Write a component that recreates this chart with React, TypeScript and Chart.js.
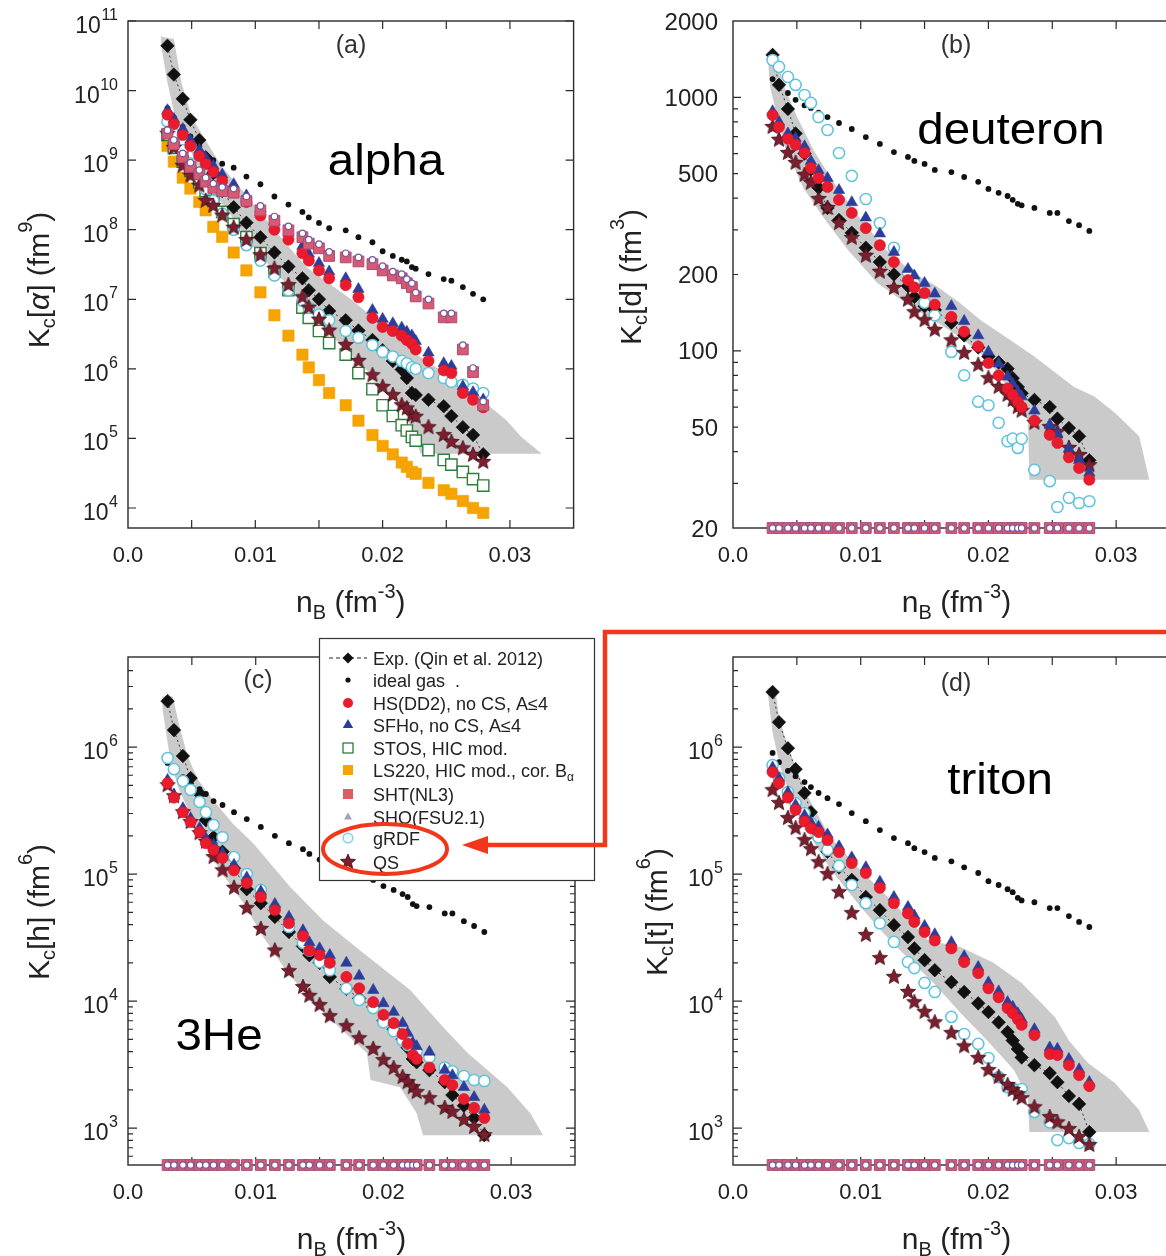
import React, { useEffect, useRef } from 'react';
import { Chart, registerables } from 'chart.js';

Chart.register(...registerables);

const FONT = '"Liberation Sans", Arial, Helvetica, sans-serif';

// ---------------- shared densities n_B (fm^-3) ----------------
const nB = [0.0031, 0.0036, 0.0043, 0.0049, 0.0056, 0.0061, 0.0067, 0.0074, 0.0083, 0.0093, 0.0104, 0.0115, 0.0126, 0.0137, 0.0142, 0.0150, 0.0158, 0.0171, 0.0181, 0.0192, 0.0200, 0.0208, 0.0215, 0.0219, 0.0223, 0.0226, 0.0236, 0.0248, 0.0254, 0.0263, 0.0271, 0.0279];

// ---------------- tick labels ----------------
const xTickValues = [0.005, 0.01, 0.015, 0.02, 0.025, 0.03];
const xLabelValues = [0, 0.01, 0.02, 0.03];
const xLabels = ['0.0', '0.01', '0.02', '0.03'];
const yExpA = [4, 5, 6, 7, 8, 9, 10, 11];
const yExpCD = [3, 4, 5, 6];
const yLabelValuesB = [20, 50, 100, 200, 500, 1000, 2000];
const yLabelsB = ['20', '50', '100', '200', '500', '1000', '2000'];

// ---------------- (a) alpha ----------------
const expA = [4.4e10, 1.7e10, 7.6e9, 3.8e9, 1.95e9, 1.1e9, 6.5e8, 3.6e8, 2.1e8, 1.26e8, 7.8e7, 4.7e7, 2.95e7, 2.0e7, 1.35e7, 1.0e7, 6.8e6, 5.0e6, 3.55e6, 2.6e6, 1.85e6, 1.3e6, 9.8e5, 7.4e5, 4.5e5, 4.2e5, 3.6e5, 2.9e5, 2.1e5, 1.45e5, 1.12e5, 5.9e4];
const idealA = [5.6e9, 4.1e9, 3.0e9, 2.2e9, 1.6e9, 1.2e9, 1.0e9, 8.9e8, 7.8e8, 5.8e8, 4.5e8, 3.0e8, 2.3e8, 1.8e8, 1.5e8, 1.25e8, 1.05e8, 9.8e7, 7.8e7, 6.6e7, 4.9e7, 4.2e7, 3.7e7, 3.5e7, 2.9e7, 2.75e7, 2.3e7, 1.95e7, 1.85e7, 1.5e7, 1.2e7, 1.0e7];
const hsA = [4.5e9, 3.3e9, 2.3e9, 1.6e9, 1.15e9, 8.8e8, 6.8e8, 5.0e8, 3.6e8, 2.5e8, 1.6e8, 1.0e8, 7.2e7, 4.6e7, 3.6e7, 2.6e7, 2.0e7, 1.6e7, 1.07e7, 5.4e6, 4.0e6, 3.5e6, 3.0e6, 2.6e6, 2.3e6, 1.9e6, 1.3e6, 9.5e5, 8.7e5, 4.5e5, 3.6e5, 2.8e5];
const sfhoA = [5.2e9, 3.9e9, 2.8e9, 1.95e9, 1.4e9, 1.08e9, 8.3e8, 6.2e8, 4.5e8, 3.1e8, 2.0e8, 1.3e8, 9.0e7, 5.8e7, 4.5e7, 3.3e7, 2.5e7, 2.0e7, 1.4e7, 7.0e6, 5.2e6, 4.5e6, 3.9e6, 3.4e6, 3.0e6, 2.5e6, 1.7e6, 1.2e6, 1.1e6, 5.6e5, 4.6e5, 3.6e5];
const stosA = [2.3e9, 1.5e9, 9.5e8, 7.0e8, 4.8e8, 3.6e8, 2.6e8, 1.8e8, 1.2e8, 7.8e7, 4.6e7, 2.5e7, 1.35e7, 7.6e6, 5.4e6, 3.5e6, 2.35e6, 1.6e6, 8.7e5, 5.1e5, 3.0e5, 2.1e5, 1.55e5, 1.3e5, 1.05e5, 9.3e4, 6.8e4, 4.9e4, 4.2e4, 3.3e4, 2.6e4, 2.1e4];
const ls220A = [1.6e9, 9.5e8, 5.6e8, 3.9e8, 2.5e8, 1.9e8, 1.1e8, 7.9e7, 4.7e7, 2.6e7, 1.26e7, 5.9e6, 3.0e6, 1.6e6, 1.05e6, 6.9e5, 4.5e5, 3.0e5, 1.8e5, 1.12e5, 7.8e4, 5.9e4, 4.5e4, 3.9e4, 3.3e4, 3.1e4, 2.3e4, 1.8e4, 1.6e4, 1.26e4, 1.0e4, 8.5e3];
const shtA = [2.4e9, 1.7e9, 1.1e9, 8.0e8, 6.3e8, 4.9e8, 4.0e8, 3.6e8, 3.4e8, 2.6e8, 1.9e8, 1.35e8, 9.8e7, 7.8e7, 6.3e7, 5.4e7, 4.2e7, 4.0e7, 3.5e7, 3.2e7, 2.6e7, 2.2e7, 2.0e7, 1.7e7, 1.5e7, 1.1e7, 8.7e6, 5.5e6, 5.5e6, 1.9e6, 9.0e5, 3.0e5];
const shoA = [2.7e9, 1.95e9, 1.25e9, 9.2e8, 7.2e8, 5.6e8, 4.6e8, 4.1e8, 3.9e8, 3.0e8, 2.2e8, 1.55e8, 1.12e8, 8.9e7, 7.2e7, 6.2e7, 4.8e7, 4.6e7, 4.0e7, 3.7e7, 3.0e7, 2.5e7, 2.3e7, 1.95e7, 1.7e7, 1.25e7, 1.0e7, 6.3e6, 6.3e6, 2.2e6, 1.03e6, 3.4e5];
const grdfA = [3.6e9, 2.4e9, 1.4e9, 9.0e8, 5.5e8, 3.8e8, 2.6e8, 1.7e8, 1.0e8, 6.0e7, 3.6e7, 2.2e7, 1.35e7, 9.5e6, 7.5e6, 6.0e6, 5.0e6, 3.5e6, 2.8e6, 2.2e6, 1.75e6, 1.5e6, 1.3e6, 1.2e6, 1.05e6, 1.0e6, 8.7e5, 7.4e5, 6.5e5, 5.9e5, 5.2e5, 4.5e5];
const qsA = [2.4e9, 1.5e9, 8.3e8, 6.0e8, 4.3e8, 2.6e8, 2.2e8, 1.6e8, 1.07e8, 7.1e7, 4.3e7, 2.75e7, 1.6e7, 1.07e7, 7.6e6, 5.1e6, 3.55e6, 2.2e6, 1.3e6, 8.1e5, 5.5e5, 4.2e5, 3.0e5, 2.7e5, 2.15e5, 2.05e5, 1.45e5, 1.12e5, 8.9e4, 7.2e4, 5.8e4, 4.6e4];
const bandAX = [0.0026, 0.0036, 0.0042, 0.0050, 0.0062, 0.0074, 0.0096, 0.0117, 0.0140, 0.0176, 0.0229, 0.0254, 0.0281, 0.0297, 0.0309, 0.0325, 0.0230, 0.0218, 0.0203, 0.0182, 0.0150, 0.0130, 0.0112, 0.0094, 0.0080, 0.0066, 0.0055, 0.0046, 0.0037, 0.0031, 0.0026];
const bandAY = [6.0e10, 5.5e10, 1.3e10, 4.2e9, 1.8e9, 8.0e8, 2.7e8, 9.0e7, 2.9e7, 9.8e6, 1.5e6, 7.6e5, 3.2e5, 1.84e5, 1.05e5, 6.0e4, 6.0e4, 2.3e5, 5.0e5, 1.2e6, 4.5e6, 1.3e7, 2.9e7, 7.0e7, 1.7e8, 3.7e8, 8.0e8, 1.8e9, 4.2e9, 1.3e10, 4.5e10];

// ---------------- (b) deuteron ----------------
const expB = [1470, 1120, 900, 720, 600, 520, 440, 366, 328, 292, 255, 224, 200, 180, 163, 150, 145, 129, 115, 103, 95, 90, 85, 78, 72, 68, 64, 60, 54, 49.6, 46, 37];
const idealB = [1180, 1100, 1040, 977, 930, 908, 870, 836, 792, 750, 697, 655, 608, 582, 561, 546, 517, 507, 485, 464, 435, 420, 408, 394, 380, 375, 366, 350, 350, 325, 313, 297];
const hsB = [851, 764, 686, 650, 603, 526, 480, 443, 394, 350, 305, 261, 224, 190, 178, 169, 152, 136, 119, 104, 89.5, 80, 71, 67, 63, 60, 53, 46.6, 43.3, 38, 34.5, 31];
const sfhoB = [880, 800, 720, 690, 640, 560, 515, 480, 430, 385, 335, 290, 245, 210, 198, 185, 168, 150, 131, 115, 99, 89, 79, 74, 69, 66, 58, 51, 47, 41, 37, 33];
const grdfB = [1403, 1318, 1203, 1119, 1021, 950, 836, 743, 603, 490, 397, 319, 255, 203, 185, 155, 138, 99, 80, 63, 61, 52, 44, 45, 41.4, 45, 33.9, 30.6, 24.2, 26.3, 25.1, 25.5];
const qsB = [764, 680, 603, 551, 494, 460, 397, 366, 319, 279, 237, 205, 177, 159, 142, 132, 121, 110, 98, 88, 78, 72, 67, 64, 60, 58, 52, 50, 47.8, 41.4, 38.8, 35.4];
const floorB = [20, 20, 20, 20, 20, 20, 20, 20, 20, 20, 20, 20, 20, 20, 20, 20, 20, 20, 20, 20, 20, 20, 20, 20, 20, 20, 20, 20, 20, 20, 20, 20];
const bandBX = [0.0027, 0.0034, 0.0039, 0.0050, 0.0063, 0.0078, 0.0098, 0.0120, 0.0140, 0.0160, 0.0178, 0.0194, 0.0215, 0.0236, 0.0267, 0.0283, 0.0299, 0.0318, 0.0326, 0.0232, 0.0231, 0.0215, 0.0200, 0.0178, 0.0157, 0.0137, 0.0113, 0.0090, 0.0070, 0.0055, 0.0040, 0.0029];
const bandBY = [1500, 1500, 1140, 840, 620, 470, 340, 250, 205, 179, 154, 132, 112, 95, 72, 66, 57, 46, 31, 31, 53, 72, 92, 113, 132, 152, 185, 250, 340, 440, 650, 1100];

// ---------------- (c) 3He ----------------
const expC = [2.3e6, 1.36e6, 8.5e5, 5.7e5, 4.3e5, 2.66e5, 1.95e5, 1.5e5, 1.11e5, 7.6e4, 5.9e4, 4.6e4, 3.5e4, 2.7e4, 2.3e4, 2.0e4, 1.55e4, 1.25e4, 1.05e4, 9.0e3, 7.0e3, 6.0e3, 5.0e3, 4.3e3, 3.5e3, 3.3e3, 2.86e3, 2.3e3, 1.82e3, 1.5e3, 1.2e3, 880];
const idealC = [7.5e5, 6.5e5, 5.8e5, 5.1e5, 4.67e5, 4.27e5, 3.76e5, 3.5e5, 3.07e5, 2.71e5, 2.35e5, 2.0e5, 1.75e5, 1.57e5, 1.44e5, 1.3e5, 1.2e5, 1.1e5, 1.0e5, 9.0e4, 8.05e4, 7.5e4, 6.96e4, 6.6e4, 5.8e4, 5.6e4, 5.5e4, 4.9e4, 4.9e4, 4.26e4, 3.9e4, 3.5e4];
const hsC = [5.2e5, 4.0e5, 3.07e5, 2.57e5, 2.14e5, 1.75e5, 1.55e5, 1.34e5, 1.07e5, 8.5e4, 6.6e4, 5.2e4, 4.1e4, 3.25e4, 2.5e4, 2.3e4, 2.0e4, 1.55e4, 1.26e4, 9.8e3, 7.8e3, 6.7e3, 5.5e3, 4.6e3, 3.76e3, 3.5e3, 3.0e3, 2.39e3, 2.18e3, 1.69e3, 1.44e3, 1.2e3];
const sfhoC = [5.5e5, 4.2e5, 3.3e5, 2.75e5, 2.3e5, 1.9e5, 1.7e5, 1.46e5, 1.18e5, 9.4e4, 7.3e4, 5.8e4, 4.6e4, 3.6e4, 2.9e4, 2.6e4, 2.3e4, 2.0e4, 1.58e4, 1.22e4, 9.6e3, 8.2e3, 6.7e3, 5.6e3, 4.7e3, 4.4e3, 3.98e3, 2.87e3, 2.6e3, 2.1e3, 1.75e3, 1.39e3];
const grdfC = [8.2e5, 6.7e5, 5.4e5, 4.6e5, 3.7e5, 3.07e5, 2.43e5, 1.95e5, 1.36e5, 1.0e5, 7.5e4, 5.4e4, 3.83e4, 2.87e4, 2.5e4, 2.03e4, 1.75e4, 1.26e4, 1.02e4, 8.8e3, 6.8e3, 5.8e3, 4.9e3, 4.5e3, 4.3e3, 4.0e3, 3.6e3, 3.0e3, 2.8e3, 2.57e3, 2.39e3, 2.35e3];
const qsC = [5.0e5, 4.1e5, 3.07e5, 2.57e5, 2.1e5, 1.8e5, 1.36e5, 1.07e5, 7.8e4, 5.4e4, 3.7e4, 2.5e4, 1.72e4, 1.29e4, 1.1e4, 9.3e3, 7.6e3, 6.35e3, 5.1e3, 4.2e3, 3.43e3, 2.97e3, 2.52e3, 2.3e3, 2.1e3, 1.92e3, 1.72e3, 1.44e3, 1.34e3, 1.16e3, 1.02e3, 880];
const floorCD = [512, 512, 512, 512, 512, 512, 512, 512, 512, 512, 512, 512, 512, 512, 512, 512, 512, 512, 512, 512, 512, 512, 512, 512, 512, 512, 512, 512, 512, 512, 512, 512];
const bandCX = [0.0027, 0.0035, 0.0041, 0.0047, 0.0055, 0.0067, 0.0082, 0.0098, 0.0127, 0.0153, 0.0184, 0.0221, 0.0247, 0.0266, 0.0297, 0.0315, 0.0325, 0.0231, 0.0226, 0.0213, 0.0190, 0.0187, 0.0153, 0.0125, 0.0106, 0.0090, 0.0074, 0.0060, 0.0050, 0.0040, 0.0033, 0.0027];
const bandCY = [2.5e6, 2.5e6, 1.36e6, 8.3e5, 5.5e5, 3.8e5, 2.5e5, 1.75e5, 7.9e4, 4.3e4, 2.4e4, 1.22e4, 6.2e3, 3.9e3, 2.1e3, 1.31e3, 880, 880, 1.31e3, 2.1e3, 2.39e3, 3.9e3, 8.1e3, 1.66e4, 3.2e4, 6.0e4, 1.0e5, 1.7e5, 2.8e5, 4.6e5, 8.0e5, 2.0e6];

// ---------------- (d) triton ----------------
const expD = [2.71e6, 1.57e6, 9.8e5, 6.7e5, 4.35e5, 3.07e5, 2.1e5, 1.5e5, 1.13e5, 9.0e4, 6.6e4, 5.2e4, 3.96e4, 3.19e4, 2.6e4, 2.1e4, 1.75e4, 1.41e4, 1.18e4, 9.6e3, 8.2e3, 6.8e3, 5.7e3, 4.9e3, 4.2e3, 3.6e3, 3.13e3, 2.71e3, 2.3e3, 1.79e3, 1.55e3, 930];
const idealD = [9.0e5, 7.6e5, 6.5e5, 5.9e5, 5.3e5, 4.84e5, 4.35e5, 3.96e5, 3.56e5, 3.02e5, 2.61e5, 2.22e5, 1.92e5, 1.75e5, 1.6e5, 1.49e5, 1.34e5, 1.26e5, 1.13e5, 1.02e5, 8.8e4, 8.2e4, 7.6e4, 7.2e4, 6.5e4, 6.2e4, 6.0e4, 5.4e4, 5.4e4, 4.67e4, 4.2e4, 3.83e4];
const hsD = [6.35e5, 5.2e5, 4.0e5, 3.2e5, 2.6e5, 2.3e5, 2.14e5, 1.85e5, 1.49e5, 1.22e5, 1.02e5, 7.8e4, 5.9e4, 4.9e4, 4.2e4, 3.5e4, 3.0e4, 2.6e4, 2.03e4, 1.66e4, 1.26e4, 1.07e4, 8.8e3, 8.05e3, 7.2e3, 6.5e3, 5.4e3, 3.83e3, 3.76e3, 3.13e3, 2.61e3, 2.14e3];
const sfhoD = [6.9e5, 5.7e5, 4.4e5, 3.5e5, 2.9e5, 2.55e5, 2.35e5, 2.05e5, 1.65e5, 1.35e5, 1.13e5, 8.7e4, 6.6e4, 5.5e4, 4.7e4, 3.9e4, 3.35e4, 2.9e4, 2.25e4, 1.85e4, 1.4e4, 1.19e4, 9.8e3, 9.0e3, 8.0e3, 7.2e3, 6.0e3, 4.3e3, 4.2e3, 3.5e3, 2.9e3, 2.3e3];
const grdfD = [7.2e5, 5.7e5, 4.43e5, 3.62e5, 3.02e5, 2.52e5, 1.95e5, 1.55e5, 1.16e5, 8.2e4, 5.9e4, 4.1e4, 2.92e4, 2.03e4, 1.82e4, 1.39e4, 1.18e4, 7.5e3, 5.5e3, 4.6e3, 3.56e3, 2.52e3, 2.1e3, 2.05e3, 2.0e3, 2.03e3, 1.34e3, 1.11e3, 805, 834, 763, 750];
const qsD = [4.58e5, 3.62e5, 2.76e5, 2.3e5, 1.85e5, 1.57e5, 1.24e5, 1.0e5, 7.2e4, 4.93e4, 3.31e4, 2.18e4, 1.55e4, 1.18e4, 9.8e3, 8.2e3, 6.8e3, 5.6e3, 4.4e3, 3.56e3, 2.86e3, 2.52e3, 2.18e3, 2.0e3, 1.85e3, 1.72e3, 1.46e3, 1.22e3, 1.11e3, 982, 850, 735];
const bandDX = [0.0027, 0.0033, 0.0036, 0.0043, 0.0050, 0.0059, 0.0076, 0.0100, 0.0126, 0.0153, 0.0178, 0.0204, 0.0226, 0.0252, 0.0263, 0.0278, 0.0299, 0.0318, 0.0326, 0.0232, 0.0231, 0.0220, 0.0199, 0.0178, 0.0157, 0.0131, 0.0118, 0.0100, 0.0076, 0.0058, 0.0046, 0.0037, 0.0031, 0.0027];
const bandDY = [2.9e6, 2.9e6, 1.72e6, 1.0e6, 6.6e5, 4.0e5, 1.95e5, 1.07e5, 5.9e4, 3.0e4, 2.66e4, 2.0e4, 1.39e4, 7.5e3, 4.9e3, 3.25e3, 2.26e3, 1.39e3, 930, 930, 1.75e3, 2.86e3, 4.9e3, 8.1e3, 1.39e4, 2.5e4, 3.4e4, 5.5e4, 1.1e5, 2.2e5, 3.8e5, 7.0e5, 1.29e6, 2.8e6];

// ---------------- legend ----------------
type Seg = { t: string; s: number; dy?: number; it?: boolean };
type Kind = 'exp' | 'ideal' | 'hs' | 'sfho' | 'stos' | 'ls220' | 'sht' | 'sho' | 'grdf' | 'qs';
const legendKinds: Kind[] = ['exp', 'ideal', 'hs', 'sfho', 'stos', 'ls220', 'sht', 'sho', 'grdf', 'qs'];
const legendTexts: Seg[][] = [
  [{ t: 'Exp. (Qin et al. 2012)', s: 18 }],
  [{ t: 'ideal gas  .', s: 18 }],
  [{ t: 'HS(DD2), no CS, A\u22644', s: 18 }],
  [{ t: 'SFHo, no CS, A\u22644', s: 18 }],
  [{ t: 'STOS, HIC mod.', s: 18 }],
  [{ t: 'LS220, HIC mod., cor. B', s: 18 }, { t: '\u03b1', s: 12, dy: 4 }],
  [{ t: 'SHT(NL3)', s: 18 }],
  [{ t: 'SHO(FSU2.1)', s: 18 }],
  [{ t: 'gRDF', s: 18 }],
  [{ t: 'QS', s: 18 }],
];

// ---------------- styles ----------------
const STYLES: Record<Kind, { style: string; r: number; fill: string; stroke: string; bw: number; order: number }> = {
  sho: { style: 'circle', r: 3.2, fill: '#ffffff', stroke: '#74579a', bw: 1.2, order: 1 },
  sht: { style: 'rect', r: 7.6, fill: '#d95a70', stroke: '#a84c7c', bw: 1, order: 2 },
  hs: { style: 'circle', r: 5.6, fill: '#ea1b2d', stroke: '#d01525', bw: 0.6, order: 3 },
  sfho: { style: 'triangle', r: 6.6, fill: '#2c3e9c', stroke: '#2c3e9c', bw: 0.6, order: 4 },
  qs: { style: 'star', r: 8, fill: '#7b1f2e', stroke: '#3d0d16', bw: 0.8, order: 5 },
  grdf: { style: 'circle', r: 5.6, fill: '#ffffff', stroke: '#5ec3dc', bw: 1.5, order: 6 },
  exp: { style: 'rectRot', r: 6.8, fill: '#111111', stroke: '#111111', bw: 0.6, order: 7 },
  stos: { style: 'rect', r: 8, fill: '#ffffff', stroke: '#2e7d3a', bw: 1.4, order: 8 },
  ls220: { style: 'rect', r: 8, fill: '#f6a400', stroke: '#eea000', bw: 0.6, order: 9 },
  ideal: { style: 'circle', r: 2.9, fill: '#111111', stroke: '#111111', bw: 0, order: 10 },
};

const X_TITLE: Seg[] = [{ t: 'n', s: 30 }, { t: 'B', s: 20, dy: 7 }, { t: ' (fm', s: 30 }, { t: '-3', s: 20, dy: -14 }, { t: ')', s: 30 }];

interface Panel {
  key: 'a' | 'b' | 'c' | 'd';
  left: number; top: number; w: number; h: number; z: number;
  pad: { left: number; top: number; right: number; bottom: number };
  yMin: number; yMax: number;
  series: [Kind, number[]][];
  bandX: number[]; bandY: number[];
  yTitle: Seg[]; yTitlePos: [number, number];
  tag: string; tagPos: [number, number];
  big: string; bigPos: [number, number];
  legend: boolean;
}

const PANELS: Panel[] = [
  {
    key: 'a', left: 0, top: 0, w: 583, h: 628, z: 1,
    pad: { left: 128, top: 21, right: 8, bottom: 100 }, yMin: 5158, yMax: 1e11,
    series: [['exp', expA], ['ideal', idealA], ['hs', hsA], ['sfho', sfhoA], ['stos', stosA], ['ls220', ls220A], ['sht', shtA], ['sho', shoA], ['grdf', grdfA], ['qs', qsA]],
    bandX: bandAX, bandY: bandAY,
    yTitle: [{ t: 'K', s: 30 }, { t: 'c', s: 20, dy: 6 }, { t: '[', s: 30 }, { t: '\u03b1', s: 30, it: true }, { t: '] (fm', s: 30 }, { t: '9', s: 20, dy: -17 }, { t: ')', s: 30 }],
    yTitlePos: [38, 280], tag: '(a)', tagPos: [351, 46], big: 'alpha', bigPos: [386, 175], legend: false,
  },
  {
    key: 'b', left: 583, top: 0, w: 617, h: 628, z: 1,
    pad: { left: 150, top: 21, right: 20, bottom: 100 }, yMin: 20, yMax: 2000,
    series: [['exp', expB], ['ideal', idealB], ['hs', hsB], ['sfho', sfhoB], ['sht', floorB], ['sho', floorB], ['grdf', grdfB], ['qs', qsB]],
    bandX: bandBX, bandY: bandBY,
    yTitle: [{ t: 'K', s: 30 }, { t: 'c', s: 20, dy: 6 }, { t: '[d] (fm', s: 30 }, { t: '3', s: 20, dy: -17 }, { t: ')', s: 30 }],
    yTitlePos: [47, 277], tag: '(b)', tagPos: [373, 46], big: 'deuteron', bigPos: [428, 144], legend: false,
  },
  {
    key: 'c', left: 0, top: 628, w: 615, h: 628, z: 3,
    pad: { left: 128, top: 29, right: 40, bottom: 91 }, yMin: 512, yMax: 5.12e6,
    series: [['exp', expC], ['ideal', idealC], ['hs', hsC], ['sfho', sfhoC], ['sht', floorCD], ['sho', floorCD], ['grdf', grdfC], ['qs', qsC]],
    bandX: bandCX, bandY: bandCY,
    yTitle: [{ t: 'K', s: 30 }, { t: 'c', s: 20, dy: 6 }, { t: '[h] (fm', s: 30 }, { t: '6', s: 20, dy: -17 }, { t: ')', s: 30 }],
    yTitlePos: [38, 284], tag: '(c)', tagPos: [258, 53], big: '3He', bigPos: [219, 422], legend: true,
  },
  {
    key: 'd', left: 583, top: 628, w: 617, h: 628, z: 2,
    pad: { left: 150, top: 29, right: 20, bottom: 91 }, yMin: 512, yMax: 5.12e6,
    series: [['exp', expD], ['ideal', idealD], ['hs', hsD], ['sfho', sfhoD], ['sht', floorCD], ['sho', floorCD], ['grdf', grdfD], ['qs', qsD]],
    bandX: bandDX, bandY: bandDY,
    yTitle: [{ t: 'K', s: 30 }, { t: 'c', s: 20, dy: 6 }, { t: '[t] (fm', s: 30 }, { t: '6', s: 20, dy: -17 }, { t: ')', s: 30 }],
    yTitlePos: [73, 284], tag: '(d)', tagPos: [373, 56], big: 'triton', bigPos: [417, 166], legend: false,
  },
];

// ---------------- helpers ----------------
function makeStar(r: number): HTMLCanvasElement {
  const s = Math.ceil(r * 2 + 4);
  const c = document.createElement('canvas');
  c.width = s; c.height = s;
  const g = c.getContext('2d') as CanvasRenderingContext2D;
  g.beginPath();
  for (let k = 0; k < 10; k++) {
    const ang = -Math.PI / 2 + (k * Math.PI) / 5;
    const rr = k % 2 === 0 ? r : r * 0.45;
    const px = s / 2 + rr * Math.cos(ang);
    const py = s / 2 + rr * Math.sin(ang);
    if (k === 0) g.moveTo(px, py); else g.lineTo(px, py);
  }
  g.closePath();
  g.fillStyle = STYLES.qs.fill; g.fill();
  g.strokeStyle = STYLES.qs.stroke; g.lineWidth = STYLES.qs.bw; g.stroke();
  return c;
}

function fontOf(g: Seg) {
  return `${g.it ? 'italic ' : ''}${g.s}px ${FONT}`;
}

function drawRich(ctx: CanvasRenderingContext2D, segs: Seg[], x: number, y: number, align: 'left' | 'center' | 'right') {
  const ws = segs.map((g) => { ctx.font = fontOf(g); return ctx.measureText(g.t).width; });
  const total = ws.reduce((a, b) => a + b, 0);
  let cx = align === 'center' ? x - total / 2 : align === 'right' ? x - total : x;
  ctx.textAlign = 'left';
  ctx.textBaseline = 'alphabetic';
  segs.forEach((g, i) => { ctx.font = fontOf(g); ctx.fillText(g.t, cx, y + (g.dy || 0)); cx += ws[i]; });
}

function drawPow(ctx: CanvasRenderingContext2D, e: number, xRight: number, y: number) {
  ctx.textAlign = 'left';
  ctx.textBaseline = 'alphabetic';
  ctx.font = `16px ${FONT}`;
  const ew = ctx.measureText(String(e)).width;
  ctx.fillText(String(e), xRight - ew, y - 1);
  ctx.font = `23px ${FONT}`;
  const bw = ctx.measureText('10').width;
  ctx.fillText('10', xRight - ew - bw - 0.5, y + 12);
}

function yTicksFor(key: string): { v: number; len: number }[] {
  const out: { v: number; len: number }[] = [];
  if (key === 'a') {
    yExpA.forEach((e) => out.push({ v: Math.pow(10, e), len: 8 }));
  } else if (key === 'b') {
    [30, 40, 50, 60, 70, 80, 90, 100, 200, 300, 400, 500, 600, 700, 800, 900, 1000].forEach((v) => out.push({ v, len: v === 100 || v === 1000 ? 8 : 5 }));
  } else {
    for (let e = 2; e <= 6; e++) for (let m = 1; m <= 9; m++) {
      const v = m * Math.pow(10, e);
      if (v > 520 && v < 5.0e6) out.push({ v, len: m === 1 ? 9 : 5 });
    }
  }
  return out;
}

function drawLegendMarker(ctx: CanvasRenderingContext2D, kind: Kind, x: number, y: number, star: HTMLCanvasElement) {
  const s = STYLES[kind];
  ctx.save();
  ctx.fillStyle = s.fill; ctx.strokeStyle = s.stroke; ctx.lineWidth = s.bw || 1;
  if (kind === 'exp') {
    ctx.strokeStyle = '#222'; ctx.lineWidth = 1; ctx.setLineDash([4, 3]);
    ctx.beginPath(); ctx.moveTo(329, y); ctx.lineTo(367, y); ctx.stroke(); ctx.setLineDash([]);
    ctx.fillStyle = '#111';
    ctx.beginPath(); ctx.moveTo(x, y - 5.5); ctx.lineTo(x + 5.5, y); ctx.lineTo(x, y + 5.5); ctx.lineTo(x - 5.5, y); ctx.closePath(); ctx.fill();
  } else if (kind === 'ideal') {
    ctx.beginPath(); ctx.arc(x, y, 2.6, 0, Math.PI * 2); ctx.fill();
  } else if (kind === 'hs') {
    ctx.beginPath(); ctx.arc(x, y, 5, 0, Math.PI * 2); ctx.fill();
  } else if (kind === 'sfho') {
    ctx.beginPath(); ctx.moveTo(x, y - 6); ctx.lineTo(x + 5.2, y + 3); ctx.lineTo(x - 5.2, y + 3); ctx.closePath(); ctx.fill();
  } else if (kind === 'stos') {
    ctx.fillStyle = '#fff'; ctx.fillRect(x - 5, y - 5, 10, 10); ctx.lineWidth = 1.3; ctx.strokeRect(x - 5, y - 5, 10, 10);
  } else if (kind === 'ls220') {
    ctx.fillRect(x - 5, y - 5, 10, 10);
  } else if (kind === 'sht') {
    ctx.fillStyle = '#e05a62'; ctx.fillRect(x - 5, y - 5, 10, 10);
  } else if (kind === 'sho') {
    ctx.fillStyle = '#a8a0b4';
    ctx.beginPath(); ctx.moveTo(x, y - 4.5); ctx.lineTo(x + 4, y + 2.5); ctx.lineTo(x - 4, y + 2.5); ctx.closePath(); ctx.fill();
  } else if (kind === 'grdf') {
    ctx.fillStyle = '#f2fbfd'; ctx.strokeStyle = '#86d3e3'; ctx.lineWidth = 1.5;
    ctx.beginPath(); ctx.arc(x, y, 4.8, 0, Math.PI * 2); ctx.fill(); ctx.stroke();
  } else if (kind === 'qs') {
    ctx.drawImage(star, x - star.width / 2, y - star.height / 2);
  }
  ctx.restore();
}

function drawLegend(ctx: CanvasRenderingContext2D, offsetY: number, star: HTMLCanvasElement) {
  const L = 319, T = 638 - offsetY, R = 594, B = 880 - offsetY;
  const rows = [658, 680, 703, 725, 748, 770, 794, 817, 838, 862];
  ctx.save();
  ctx.fillStyle = '#ffffff';
  ctx.fillRect(L, T, R - L, B - T);
  ctx.strokeStyle = '#333'; ctx.lineWidth = 1.2;
  ctx.strokeRect(L + 0.5, T + 0.5, R - L, B - T);
  legendKinds.forEach((k, i) => {
    const y = rows[i] - offsetY;
    drawLegendMarker(ctx, k, 348, y, star);
    ctx.fillStyle = '#222';
    drawRich(ctx, legendTexts[i], 373, y + 6.5, 'left');
  });
  ctx.restore();
}

function decorPlugin(p: Panel, star: HTMLCanvasElement) {
  return {
    id: 'decor_' + p.key,
    beforeDatasetsDraw(chart: any) {
      const { ctx, chartArea: a } = chart;
      const xs = chart.scales.x, ys = chart.scales.y;
      ctx.save();
      ctx.strokeStyle = '#2a2a2a';
      ctx.lineWidth = 1.2;
      ctx.beginPath();
      xTickValues.forEach((v) => {
        const px = xs.getPixelForValue(v);
        ctx.moveTo(px, a.bottom); ctx.lineTo(px, a.bottom - 8);
        ctx.moveTo(px, a.top); ctx.lineTo(px, a.top + 8);
      });
      yTicksFor(p.key).forEach((t) => {
        const py = ys.getPixelForValue(t.v);
        ctx.moveTo(a.left, py); ctx.lineTo(a.left + t.len, py);
        ctx.moveTo(a.right, py); ctx.lineTo(a.right - t.len, py);
      });
      ctx.stroke();
      ctx.lineWidth = 1.4;
      ctx.strokeRect(a.left, a.top, a.right - a.left, a.bottom - a.top);
      ctx.restore();
    },
    afterDraw(chart: any) {
      const { ctx, chartArea: a } = chart;
      const xs = chart.scales.x, ys = chart.scales.y;
      ctx.save();
      ctx.fillStyle = '#222';
      ctx.font = `22px ${FONT}`;
      ctx.textAlign = 'center';
      ctx.textBaseline = 'alphabetic';
      xLabelValues.forEach((v, i) => ctx.fillText(xLabels[i], xs.getPixelForValue(v), a.bottom + 34));
      if (p.key === 'b') {
        ctx.font = `24px ${FONT}`;
        ctx.textAlign = 'right';
        yLabelValuesB.forEach((v, i) => ctx.fillText(yLabelsB[i], a.left - 15, ys.getPixelForValue(v) + 8.5));
      } else {
        const exps = p.key === 'a' ? yExpA : yExpCD;
        exps.forEach((e) => drawPow(ctx, e, a.left - 10, ys.getPixelForValue(Math.pow(10, e))));
      }
      drawRich(ctx, X_TITLE, (a.left + a.right) / 2, a.bottom + 84, 'center');
      ctx.save();
      ctx.translate(p.yTitlePos[0], p.yTitlePos[1]);
      ctx.rotate(-Math.PI / 2);
      drawRich(ctx, p.yTitle, 0, 11, 'center');
      ctx.restore();
      ctx.fillStyle = '#333';
      ctx.font = `25px ${FONT}`;
      ctx.textAlign = 'center';
      ctx.textBaseline = 'middle';
      ctx.fillText(p.tag, p.tagPos[0], p.tagPos[1]);
      ctx.save();
      ctx.fillStyle = '#000';
      ctx.translate(p.bigPos[0], p.bigPos[1]);
      ctx.scale(1.08, 1);
      ctx.font = `44px ${FONT}`;
      ctx.textAlign = 'center';
      ctx.textBaseline = 'alphabetic';
      ctx.fillText(p.big, 0, 0);
      ctx.restore();
      if (p.legend) drawLegend(ctx, p.top, star);
      ctx.restore();
    },
  };
}

function buildDatasets(p: Panel, star: HTMLCanvasElement) {
  const ds: any[] = [{
    label: 'band',
    data: p.bandX.map((x, i) => ({ x, y: p.bandY[i] })),
    showLine: true,
    fill: 'shape',
    backgroundColor: '#cacaca',
    borderColor: 'rgba(0,0,0,0)',
    borderWidth: 0,
    pointRadius: 0,
    tension: 0,
    order: 100,
  }];
  p.series.forEach(([kind, vals]) => {
    const s = STYLES[kind];
    const isExp = kind === 'exp';
    ds.push({
      label: kind,
      data: nB.map((x, i) => ({ x, y: vals[i] })),
      showLine: isExp,
      borderColor: isExp ? '#333' : s.stroke,
      borderWidth: isExp ? 1 : 0,
      borderDash: isExp ? [2, 3] : [],
      backgroundColor: s.fill,
      pointStyle: kind === 'qs' ? star : s.style,
      pointRadius: s.r,
      pointBackgroundColor: s.fill,
      pointBorderColor: s.stroke,
      pointBorderWidth: s.bw,
      fill: false,
      tension: 0,
      clip: false,
      order: s.order,
    });
  });
  return ds;
}

export default function App() {
  const r0 = useRef<HTMLCanvasElement>(null);
  const r1 = useRef<HTMLCanvasElement>(null);
  const r2 = useRef<HTMLCanvasElement>(null);
  const r3 = useRef<HTMLCanvasElement>(null);
  const refs = [r0, r1, r2, r3];

  useEffect(() => {
    const star = makeStar(STYLES.qs.r);
    const charts = PANELS.map((p, i) => new Chart(refs[i].current as HTMLCanvasElement, {
      type: 'line',
      data: { datasets: buildDatasets(p, star) },
      options: {
        responsive: false,
        maintainAspectRatio: false,
        animation: false,
        devicePixelRatio: 1,
        events: [],
        layout: { padding: p.pad },
        scales: {
          x: { type: 'linear', min: 0, max: 0.035, display: false },
          y: { type: 'logarithmic', min: p.yMin, max: p.yMax, display: false },
        },
        plugins: { legend: { display: false }, tooltip: { enabled: false } },
      } as any,
      plugins: [decorPlugin(p, star)],
    }));
    return () => charts.forEach((c) => c.destroy());
  }, []);

  return (
    <div style={{ position: 'absolute', left: 0, top: 0, width: 1166, height: 1256, overflow: 'hidden', background: '#fff' }}>
      {PANELS.map((p, i) => (
        <canvas
          key={p.key}
          ref={refs[i]}
          width={p.w}
          height={p.h}
          style={{ position: 'absolute', left: p.left, top: p.top, width: p.w, height: p.h, zIndex: p.z }}
        />
      ))}
      <svg width={1166} height={1256} style={{ position: 'absolute', left: 0, top: 0, zIndex: 5, pointerEvents: 'none' }}>
        <ellipse cx={385} cy={849} rx={62} ry={25} fill="none" stroke="#f2361a" strokeWidth={4} />
        <polyline points="1170,632 605,632 605,845 482,845" fill="none" stroke="#f2361a" strokeWidth={4.5} />
        <polygon points="462,845 488,836 488,854" fill="#f2361a" />
      </svg>
    </div>
  );
}
